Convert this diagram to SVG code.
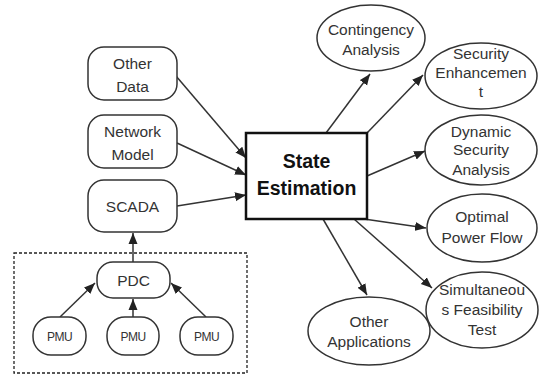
<svg xmlns="http://www.w3.org/2000/svg" width="539" height="376" viewBox="0 0 539 376">
<defs>
<marker id="ah" markerUnits="userSpaceOnUse" markerWidth="12" markerHeight="10" refX="11" refY="5" orient="auto">
<path d="M0,0.5 L11,5 L0,9.5 Z" fill="#222"/>
</marker>
<style>
.n{fill:#fff;stroke:#333;stroke-width:1.5}
.t{font-family:"Liberation Sans",Arial,sans-serif;font-size:15.5px;fill:#333;text-anchor:middle}
.s{font-size:12px;letter-spacing:-0.5px}
.b{font-family:"Liberation Sans",Arial,sans-serif;font-size:19.5px;font-weight:bold;fill:#111;text-anchor:middle}
.c line{stroke:#333;stroke-width:1.5;marker-end:url(#ah)}
</style>
</defs>
<rect x="0" y="0" width="539" height="376" fill="#fff"/>
<rect x="14" y="253" width="233" height="120" fill="none" stroke="#222" stroke-width="1.3" stroke-dasharray="3,2"/>
<g class="c">
<line x1="176" y1="76" x2="246" y2="158"/>
<line x1="177" y1="143" x2="246" y2="175"/>
<line x1="177" y1="206" x2="246" y2="195"/>
<line x1="133" y1="262" x2="133" y2="233"/>
<line x1="60" y1="317" x2="95" y2="283"/>
<line x1="133" y1="317" x2="133" y2="299"/>
<line x1="206" y1="317" x2="171" y2="283"/>
<line x1="326" y1="133" x2="370" y2="74"/>
<line x1="367" y1="133" x2="423" y2="75"/>
<line x1="367" y1="176" x2="425" y2="151"/>
<line x1="364" y1="219" x2="426" y2="228"/>
<line x1="354" y1="219" x2="432" y2="288"/>
<line x1="323" y1="219" x2="367" y2="295"/>
</g>
<g id="other-data"><rect class="n" x="88" y="47" width="89" height="53" rx="16"/><text class="t" x="132.5" y="69">Other</text><text class="t" x="132.5" y="92">Data</text></g>
<g id="network-model"><rect class="n" x="88" y="115" width="89" height="53" rx="16"/><text class="t" x="132.5" y="137">Network</text><text class="t" x="132.5" y="160">Model</text></g>
<g id="scada"><rect class="n" x="88" y="180" width="89" height="52" rx="16"/><text class="t" x="132.5" y="212">SCADA</text></g>
<g id="pdc"><rect class="n" x="97" y="262" width="73" height="36" rx="16"/><text class="t" x="133.5" y="286">PDC</text></g>
<g id="pmu1"><rect class="n" x="33" y="317" width="53" height="38" rx="18"/><text class="t s" x="59.5" y="341">PMU</text></g>
<g id="pmu2"><rect class="n" x="107" y="317" width="52" height="38" rx="18"/><text class="t s" x="133" y="341">PMU</text></g>
<g id="pmu3"><rect class="n" x="180" y="317" width="53" height="38" rx="18"/><text class="t s" x="206.5" y="341">PMU</text></g>
<g id="state-estimation"><rect x="246" y="133" width="121" height="86" fill="#fff" stroke="#111" stroke-width="2.5"/><text class="b" x="306.5" y="168">State</text><text class="b" x="306.5" y="195">Estimation</text></g>
<g id="contingency"><ellipse class="n" cx="371" cy="38" rx="54" ry="33"/><text class="t" x="371" y="35">Contingency</text><text class="t" x="371" y="55">Analysis</text></g>
<g id="security-enhancement"><ellipse class="n" cx="481" cy="76" rx="56" ry="33"/><text class="t" x="481" y="59">Security</text><text class="t" x="481" y="78">Enhancemen</text><text class="t" x="481" y="97">t</text></g>
<g id="dynamic-security"><ellipse class="n" cx="481" cy="150" rx="56" ry="35"/><text class="t" x="481" y="137">Dynamic</text><text class="t" x="481" y="155">Security</text><text class="t" x="481" y="175">Analysis</text></g>
<g id="optimal-power-flow"><ellipse class="n" cx="482" cy="228" rx="55" ry="34"/><text class="t" x="482" y="222">Optimal</text><text class="t" x="482" y="243">Power Flow</text></g>
<g id="simultaneous-feasibility"><ellipse class="n" cx="482" cy="310" rx="56" ry="38"/><text class="t" x="482" y="295">Simultaneou</text><text class="t" x="482" y="315">s Feasibility</text><text class="t" x="482" y="335">Test</text></g>
<g id="other-applications"><ellipse class="n" cx="369" cy="331" rx="61" ry="34"/><text class="t" x="369" y="327">Other</text><text class="t" x="369" y="347">Applications</text></g>
</svg>
